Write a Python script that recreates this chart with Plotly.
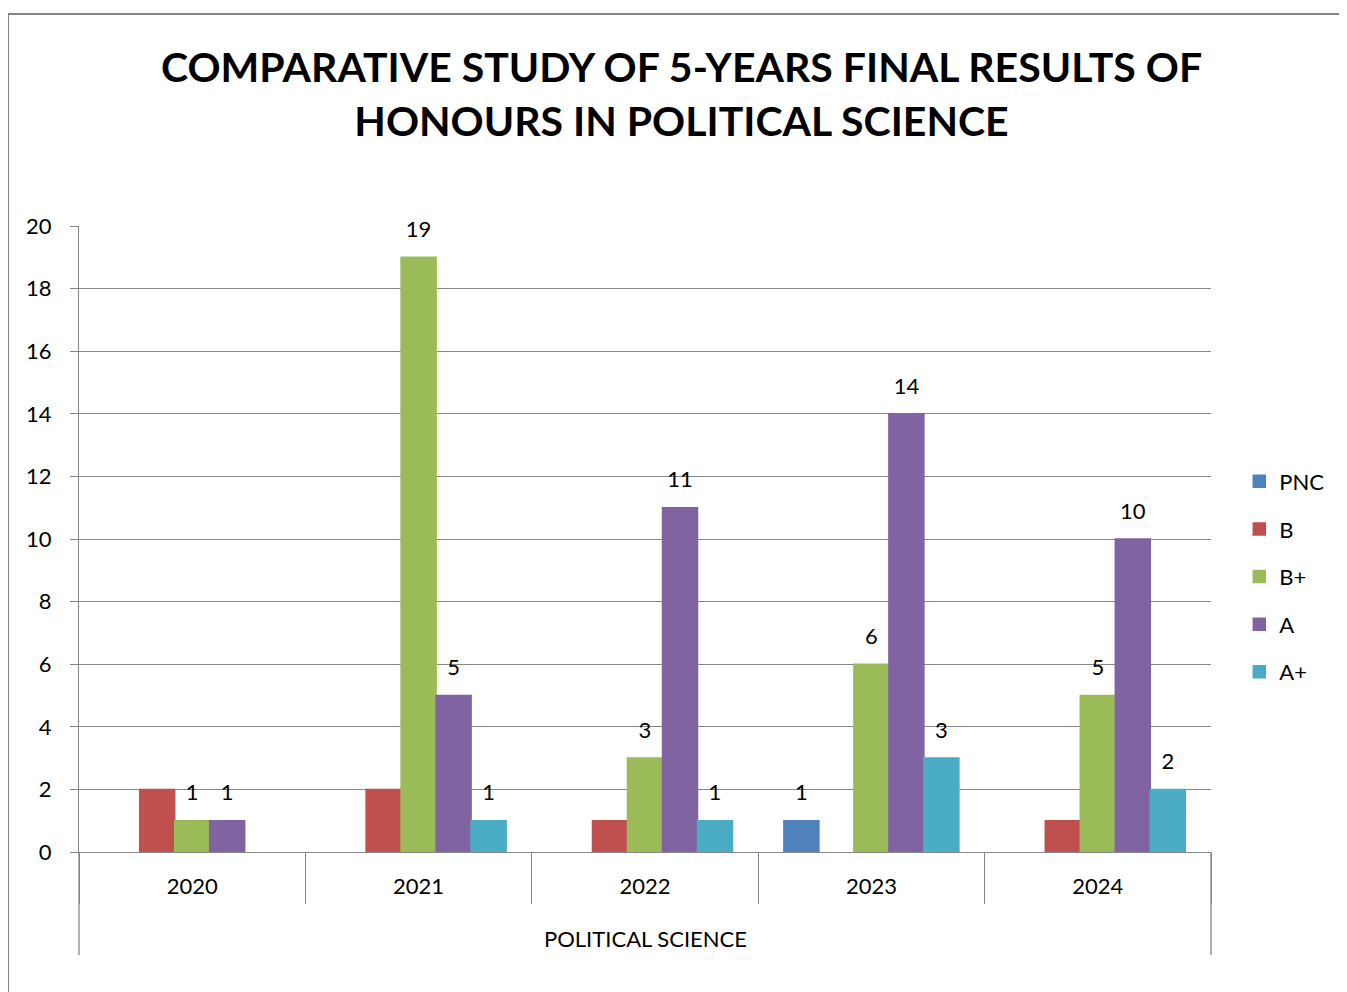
import plotly.graph_objects as go

years = ["2020", "2021", "2022", "2023", "2024"]
series_names = ["PNC", "B", "B+", "A", "A+"]
pnc = [0, 0, 0, 1, 0]
b = [2, 2, 1, 0, 1]
b_plus = [1, 19, 3, 6, 5]
a = [1, 5, 11, 14, 10]
a_plus = [0, 1, 1, 3, 2]
values = [pnc, b, b_plus, a, a_plus]
show_labels = [True, False, True, True, True]
colors = ["#4F81BD", "#C0504D", "#9BBB59", "#8064A2", "#4BACC6"]

title = "COMPARATIVE STUDY OF 5-YEARS FINAL RESULTS OF<br>HONOURS IN POLITICAL SCIENCE"
group_label = "POLITICAL SCIENCE"

FONT = "Lato"
GRAY = "#868686"
FS = 22
W, H = 1347, 992
OFF = 8  # page body margin
ML, MR, MT, MB = 79 - OFF, 136 + OFF, 226 - OFF, 140 + OFF
PW, PH = W - ML - MR, H - MT - MB
BARGAP = 0.227

fig = go.Figure()
for name, vals, col in zip(series_names, values, colors):
    fig.add_trace(go.Bar(
        x=years, y=[v if v else None for v in vals], name=name,
        marker=dict(color=col, line=dict(width=1.5, color=col)),
        legendgroup=name,
    ))
for name, vals, show in zip(series_names, values, show_labels):
    txt = [str(v) if (show and v > 0) else "" for v in vals]
    fig.add_trace(go.Scatter(
        x=years, y=vals, mode="markers+text", text=txt,
        textposition="top center",
        textfont=dict(family=FONT, size=FS, color="black"),
        marker=dict(size=22, color="rgba(0,0,0,0)"),
        showlegend=False, hoverinfo="skip", cliponaxis=False,
    ))

fig.update_layout(
    width=W, height=H,
    margin=dict(l=ML, r=MR, t=MT, b=MB),
    paper_bgcolor="white", plot_bgcolor="white",
    barmode="group", bargap=BARGAP, bargroupgap=0,
    scattermode="group", scattergap=BARGAP,
    font=dict(family=FONT, size=FS, color="black"),
    title=dict(text=title, x=0.5, xanchor="center", y=0.925, yanchor="middle",
               font=dict(family=FONT, size=41, color="black", weight="bold")),
    legend=dict(x=1.025, xanchor="left", y=0.44, yanchor="middle",
                font=dict(family=FONT, size=FS), tracegroupgap=16,
                bgcolor="rgba(0,0,0,0)"),
    showlegend=True,
)
fig.update_xaxes(
    type="category", tickson="boundaries", ticks="outside", ticklen=51,
    tickcolor=GRAY, tickwidth=1.3, showline=True, linecolor=GRAY, linewidth=1.3,
    showgrid=False, ticklabelstandoff=14, tickfont=dict(family=FONT, size=FS),
)
fig.update_yaxes(
    range=[0, 20], dtick=2, ticks="outside", ticklen=8, tickcolor=GRAY, tickwidth=1.3,
    showline=True, linecolor=GRAY, linewidth=1.3, gridcolor=GRAY, gridwidth=1.3,
    zeroline=False, ticklabelstandoff=14, tickfont=dict(family=FONT, size=FS),
)

# outer category-level separators
for xd in (0, 1):
    fig.add_shape(type="line", xref="x domain", yref="y domain",
                  x0=xd, x1=xd, y0=0, y1=-103 / PH, line=dict(color=GRAY, width=1.3))
fig.add_annotation(text=group_label, xref="x domain", yref="y domain", x=0.5, y=-86 / PH,
                   showarrow=False, yanchor="middle", font=dict(family=FONT, size=FS))

# chart frame
fig.add_shape(type="rect", xref="paper", yref="paper",
              x0=(8 - OFF - ML) / PW, x1=(W + 20 - ML) / PW,
              y0=-(H + 20 - MT - PH) / PH, y1=(H - MB - (14 - OFF)) / PH,
              line=dict(color=GRAY, width=2), fillcolor="rgba(0,0,0,0)", layer="below")

fig.write_html("out.html")
